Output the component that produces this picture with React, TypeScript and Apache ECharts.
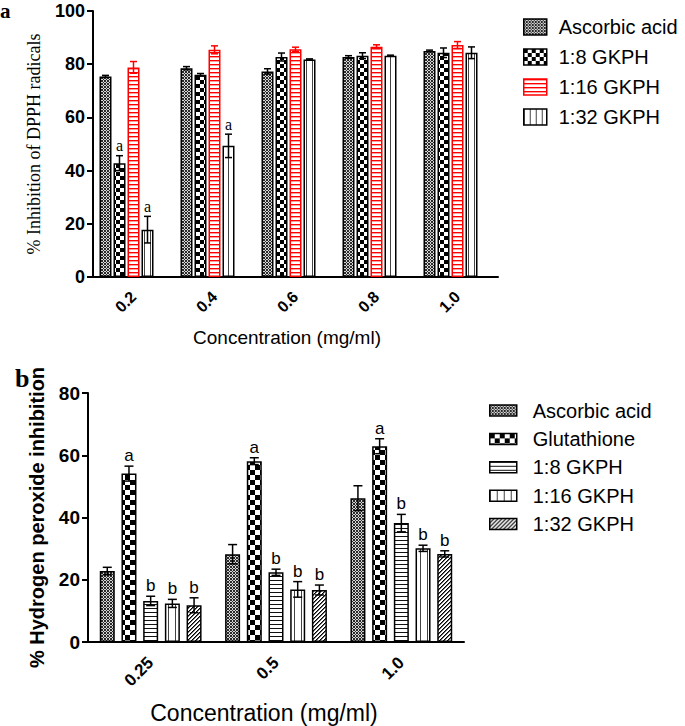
import React, { useEffect, useRef } from 'react';
import * as echarts from 'echarts';

// ---------- Panel a data (DPPH) ----------
const catsA = ['0.2', '0.4', '0.6', '0.8', '1.0'];
const ascorbicA = [75.4, 78.5, 77.3, 82.7, 85.0];
const ascorbicAErr = [0.4, 0.6, 1.0, 0.5, 0.3];
const gkph8A = [42.8, 76.0, 82.7, 83.2, 84.3];
const gkph8AErr = [2.8, 0.5, 1.5, 1.1, 1.8];
const gkph16A = [78.8, 85.4, 85.6, 86.6, 87.2];
const gkph16AErr = [2.2, 1.5, 0.8, 0.7, 1.3];
const gkph32A = [17.8, 49.3, 81.8, 83.2, 84.3];
const gkph32AErr = [5.0, 4.4, 0.2, 0.2, 2.2];
const lettersA8 = ['a', '', '', '', ''];
const lettersA32 = ['a', 'a', '', '', ''];
const yTicksA = { min: 0, max: 100, step: 20 };

// ---------- Panel b data (H2O2) ----------
const catsB = ['0.25', '0.5', '1.0'];
const ascorbicB = [22.8, 28.2, 46.2];
const ascorbicBErr = [1.2, 3.1, 4.0];
const glutathioneB = [54.1, 58.1, 62.9];
const glutathioneBErr = [2.4, 1.1, 2.4];
const gkph8B = [13.2, 22.4, 38.2];
const gkph8BErr = [1.5, 1.0, 2.8];
const gkph16B = [12.4, 16.9, 30.1];
const gkph16BErr = [1.3, 2.5, 1.0];
const gkph32B = [11.8, 16.7, 28.3];
const gkph32BErr = [2.4, 1.6, 1.0];
const lettersBGlut = ['a', 'a', 'a'];
const lettersBGkph = ['b', 'b', 'b'];
const yTicksB = { min: 0, max: 80, step: 20 };

const SANS = "'Liberation Sans', Arial, Helvetica, sans-serif";
const SERIF = "'Liberation Serif', 'Times New Roman', Times, serif";

function makePattern(w: number, h: number, px: (x: number, y: number) => string) {
  const c = document.createElement('canvas');
  c.width = w;
  c.height = h;
  const ctx = c.getContext('2d') as CanvasRenderingContext2D;
  for (let y = 0; y < h; y++) {
    for (let x = 0; x < w; x++) {
      ctx.fillStyle = px(x, y);
      ctx.fillRect(x, y, 1, 1);
    }
  }
  return { image: c, repeat: 'repeat', imageWidth: w, imageHeight: h };
}

export default function App() {
  const ref = useRef<HTMLDivElement>(null);

  useEffect(() => {
    if (!ref.current) return;
    const chart = echarts.init(ref.current, undefined, { renderer: 'svg' });

    const mesh = makePattern(3, 3, (x, y) => ((x + y) % 2 === 0 ? '#2a2a2a' : '#d6d6d6'));
    const checkA = makePattern(8, 8, (x, y) => ((Math.floor(x / 4) + Math.floor(y / 4)) % 2 === 0 ? '#000' : '#fff'));
    const checkB = makePattern(10, 10, (x, y) => ((Math.floor(x / 5) + Math.floor(y / 5)) % 2 === 0 ? '#000' : '#fff'));
    const redH = makePattern(1, 4, (x, y) => (y === 0 ? '#ff0000' : y === 1 ? '#ff9c9c' : '#ffffff'));
    const vertA = makePattern(6, 1, (x) => (x === 0 ? '#444' : '#fff'));
    const horizB = makePattern(1, 4, (x, y) => (y === 0 ? '#111' : '#fff'));
    const vertB = makePattern(7, 1, (x) => (x === 0 ? '#444' : '#fff'));
    const diagB = makePattern(4, 4, (x, y) => {
      const m = (x + y) % 4;
      return m === 3 ? '#000' : m === 0 ? '#6a6a6a' : '#fff';
    });

    const A_W = 12, A_GAP = 2, A_SLOTS = 5;
    const B_W = 15, B_GAP = 6.7, B_SLOTS = 5;

    const bar = (name: string, data: any[], color: any, border: string, axis: number) => ({
      type: 'bar',
      name,
      xAxisIndex: axis,
      yAxisIndex: axis,
      data,
      barWidth: axis === 0 ? A_W : B_W,
      barGap: axis === 0 ? `${(A_GAP / A_W) * 100}%` : `${(B_GAP / B_W) * 100}%`,
      itemStyle: { color, borderColor: border, borderWidth: 1.5 },
      emphasis: { disabled: true },
      silent: true,
      z: 2,
    });

    const err = (
      vals: number[], errs: number[], letters: string[] | null, slot: number, axis: number,
      color: string, capW: number, font: string,
    ) => {
      const w = axis === 0 ? A_W : B_W;
      const g = axis === 0 ? A_GAP : B_GAP;
      const n = axis === 0 ? A_SLOTS : B_SLOTS;
      return {
        type: 'custom',
        xAxisIndex: axis,
        yAxisIndex: axis,
        silent: true,
        z: 5,
        data: vals.map((v, i) => [i, v, errs[i]]),
        encode: { x: 0, y: 1 },
        renderItem: (params: any, api: any) => {
          const i = api.value(0);
          const v = api.value(1);
          const e = api.value(2);
          const base = api.coord([i, v]);
          const x = base[0] + (slot - (n - 1) / 2) * (w + g);
          const yt = api.coord([i, v + e])[1];
          const yb = api.coord([i, v - e])[1];
          const ls = { stroke: color, lineWidth: 1.5 };
          const children: any[] = [
            { type: 'line', shape: { x1: x, y1: yt, x2: x, y2: yb }, style: ls },
            { type: 'line', shape: { x1: x - capW / 2, y1: yt, x2: x + capW / 2, y2: yt }, style: ls },
            { type: 'line', shape: { x1: x - capW / 2, y1: yb, x2: x + capW / 2, y2: yb }, style: ls },
          ];
          const lab = letters ? letters[params.dataIndex] : '';
          if (lab) {
            children.push({
              type: 'text',
              x,
              y: yt - 2,
              style: { text: lab, fill: '#000', font, align: 'center', verticalAlign: 'bottom' },
            });
          }
          return { type: 'group', children };
        },
      };
    };

    const axisLineStyle = { color: '#000', width: 2 };
    const fontA = `16px ${SERIF}`;
    const fontB = `17px ${SANS}`;

    const option: any = {
      animation: false,
      backgroundColor: '#fff',
      grid: [
        { left: 93, top: 11, width: 405, height: 266 },
        { left: 88, top: 393, width: 376, height: 249 },
      ],
      xAxis: [
        {
          type: 'category', gridIndex: 0, data: catsA,
          axisLine: { lineStyle: axisLineStyle },
          axisTick: { alignWithLabel: true, length: 6, lineStyle: { color: '#000', width: 2 } },
          axisLabel: { rotate: 45, margin: 17, color: '#000', fontFamily: SANS, fontWeight: 'bold', fontSize: 16 },
        },
        {
          type: 'category', gridIndex: 1, data: catsB,
          axisLine: { lineStyle: axisLineStyle },
          axisTick: { alignWithLabel: true, length: 6, lineStyle: { color: '#000', width: 2 } },
          axisLabel: { rotate: 45, margin: 18, color: '#000', fontFamily: SANS, fontWeight: 'bold', fontSize: 17 },
        },
      ],
      yAxis: [
        {
          type: 'value', gridIndex: 0, min: yTicksA.min, max: yTicksA.max, interval: yTicksA.step,
          splitLine: { show: false },
          axisLine: { show: true, lineStyle: axisLineStyle },
          axisTick: { show: true, length: 6, lineStyle: { color: '#000', width: 2 } },
          axisLabel: { margin: 8, color: '#000', fontFamily: SANS, fontWeight: 'bold', fontSize: 18 },
          name: '% Inhibition of DPPH radicals',
          nameLocation: 'middle',
          nameGap: 50,
          nameTextStyle: { fontFamily: SERIF, fontSize: 18, color: '#000' },
        },
        {
          type: 'value', gridIndex: 1, min: yTicksB.min, max: yTicksB.max, interval: yTicksB.step,
          splitLine: { show: false },
          axisLine: { show: true, lineStyle: axisLineStyle },
          axisTick: { show: true, length: 6, lineStyle: { color: '#000', width: 2 } },
          axisLabel: { margin: 8, color: '#000', fontFamily: SANS, fontWeight: 'bold', fontSize: 19 },
          name: '% Hydrogen peroxide inhibition',
          nameLocation: 'middle',
          nameGap: 41,
          nameTextStyle: { fontFamily: SANS, fontWeight: 'bold', fontSize: 20, color: '#000' },
        },
      ],
      legend: [
        {
          orient: 'vertical', left: 518, top: 12, itemWidth: 23, itemHeight: 16, itemGap: 10,
          icon: 'rect', selectedMode: false,
          textStyle: { fontFamily: SANS, fontSize: 20, color: '#000', padding: [0, 0, 0, 7] },
          data: [
            { name: 'Ascorbic acid', itemStyle: { color: mesh, borderColor: '#000', borderWidth: 1.5 } },
            { name: '1:8 GKPH', itemStyle: { color: checkA, borderColor: '#000', borderWidth: 1.5 } },
            { name: '1:16 GKPH', itemStyle: { color: redH, borderColor: '#ff0000', borderWidth: 1.5 } },
            { name: '1:32 GKPH', itemStyle: { color: vertA, borderColor: '#000', borderWidth: 1.5 } },
          ],
        },
        {
          orient: 'vertical', left: 484, top: 395.5, itemWidth: 27, itemHeight: 11, itemGap: 8.4,
          icon: 'rect', selectedMode: false,
          textStyle: { fontFamily: SANS, fontSize: 20, color: '#000', padding: [0, 0, 0, 11] },
          data: [
            { name: 'Ascorbic acid', itemStyle: { color: mesh, borderColor: '#000', borderWidth: 1.5 } },
            { name: 'Glutathione', itemStyle: { color: checkB, borderColor: '#000', borderWidth: 1.5 } },
            { name: '1:8 GKPH', itemStyle: { color: horizB, borderColor: '#000', borderWidth: 1.5 } },
            { name: '1:16 GKPH', itemStyle: { color: vertB, borderColor: '#000', borderWidth: 1.5 } },
            { name: '1:32 GKPH', itemStyle: { color: diagB, borderColor: '#000', borderWidth: 1.5 } },
          ],
        },
      ],
      graphic: [
        { type: 'text', x: 0, y: 0, style: { text: 'a', font: `bold 21px ${SERIF}`, fill: '#000', verticalAlign: 'top' } },
        { type: 'text', x: 15, y: 378, style: { text: 'b', font: `bold 26px ${SERIF}`, fill: '#000', verticalAlign: 'middle' } },
        { type: 'text', x: 287, y: 337, style: { text: 'Concentration (mg/ml)', font: `19px ${SANS}`, fill: '#000', align: 'center', verticalAlign: 'middle' } },
        { type: 'text', x: 264, y: 713, style: { text: 'Concentration (mg/ml)', font: `23px ${SANS}`, fill: '#000', align: 'center', verticalAlign: 'middle' } },
      ],
      series: [
        bar('Ascorbic acid', ascorbicA, mesh, '#000', 0),
        bar('1:8 GKPH', gkph8A, checkA, '#000', 0),
        bar('1:16 GKPH', gkph16A, redH, '#ff0000', 0),
        bar('1:32 GKPH', gkph32A, vertA, '#000', 0),
        bar('spacer', catsA.map(() => null), 'transparent', 'transparent', 0),
        err(ascorbicA, ascorbicAErr, null, 0, 0, '#000', 7, fontA),
        err(gkph8A, gkph8AErr, lettersA8, 1, 0, '#000', 7, fontA),
        err(gkph16A, gkph16AErr, null, 2, 0, '#ff0000', 7, fontA),
        err(gkph32A, gkph32AErr, lettersA32, 3, 0, '#000', 7, fontA),

        bar('Ascorbic acid', ascorbicB, mesh, '#000', 1),
        bar('Glutathione', glutathioneB, checkB, '#000', 1),
        bar('1:8 GKPH', gkph8B, horizB, '#000', 1),
        bar('1:16 GKPH', gkph16B, vertB, '#000', 1),
        bar('1:32 GKPH', gkph32B, diagB, '#000', 1),
        err(ascorbicB, ascorbicBErr, null, 0, 1, '#000', 9, fontB),
        err(glutathioneB, glutathioneBErr, lettersBGlut, 1, 1, '#000', 9, fontB),
        err(gkph8B, gkph8BErr, lettersBGkph, 2, 1, '#000', 9, fontB),
        err(gkph16B, gkph16BErr, lettersBGkph, 3, 1, '#000', 9, fontB),
        err(gkph32B, gkph32BErr, lettersBGkph, 4, 1, '#000', 9, fontB),
      ],
    };

    chart.setOption(option);
    return () => chart.dispose();
  }, []);

  return (
    <div
      ref={ref}
      style={{ position: 'absolute', left: 0, top: 0, width: 685, height: 726, background: '#fff' }}
    />
  );
}
